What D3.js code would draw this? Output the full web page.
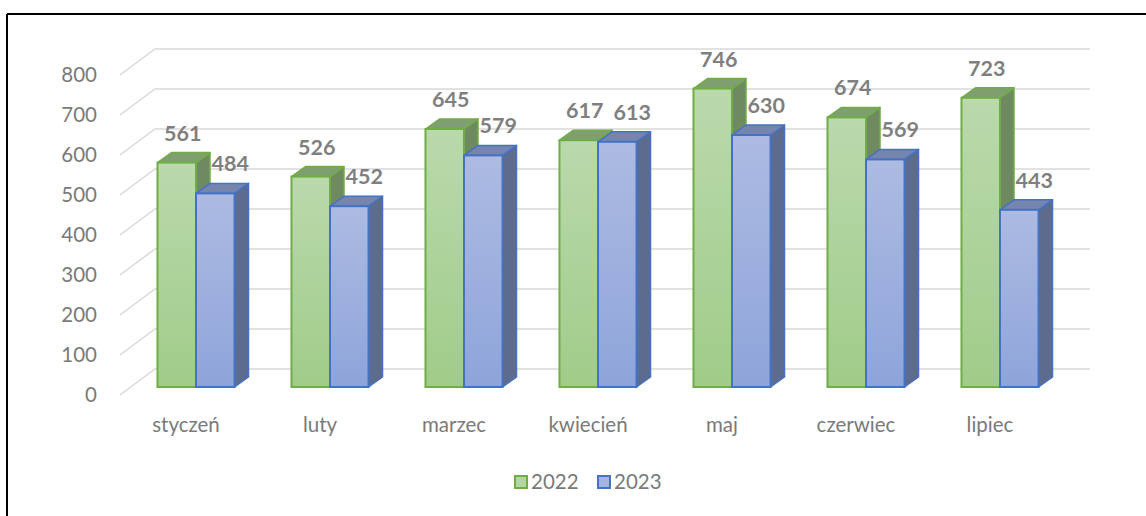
<!DOCTYPE html>
<html>
<head>
<meta charset="utf-8">
<script src="https://cdn.jsdelivr.net/npm/d3@7"></script>
<style>
  body { margin: 0; background: #fff; }
  text { font-family: Lato, "Open Sans", sans-serif; }
</style>
</head>
<body>
<script>
// chart data
var months = ["styczeń", "luty", "marzec", "kwiecień", "maj", "czerwiec", "lipiec"];
var seriesNames = ["2022", "2023"];
var values2022 = [561, 526, 645, 617, 746, 674, 723];
var values2023 = [484, 452, 579, 613, 630, 569, 443];
var yTicks = [0, 100, 200, 300, 400, 500, 600, 700, 800];

window.onload = function(){
    var w = 1146, h = 516;
    var depthX = 14, depthY = -10; //3d offset of bar depth

    var svg = d3.select("body")
        .append("svg")
        .attr("width", w)
        .attr("height", h);

    //gradients for bar front faces
    var defs = svg.append("defs");
    var grads = [
        {id: "gGreen", top: "#bad9ac", bottom: "#a0cc89"},
        {id: "gBlue", top: "#adbbe2", bottom: "#8ea4da"}
    ];
    grads.forEach(function(g){
        var lg = defs.append("linearGradient")
            .attr("id", g.id)
            .attr("x1", 0).attr("y1", 0).attr("x2", 0).attr("y2", 1);
        lg.append("stop").attr("offset", "0%").attr("stop-color", g.top);
        lg.append("stop").attr("offset", "100%").attr("stop-color", g.bottom);
    });

    var styles = [
        {front: "url(#gGreen)", top: "#809f70", side: "#6f8a60", stroke: "#70ad47", labelDx: 6},
        {front: "url(#gBlue)", top: "#7685ad", side: "#5d6b8f", stroke: "#4472c4", labelDx: 15}
    ];

    //chart frame (top and left only)
    svg.append("line").attr("x1", 7).attr("x2", w).attr("y1", 14).attr("y2", 14)
        .attr("stroke", "#000").attr("stroke-width", 2);
    svg.append("line").attr("x1", 7).attr("x2", 7).attr("y1", 14).attr("y2", h)
        .attr("stroke", "#000").attr("stroke-width", 2);

    //y scale for the bar front plane
    var y = d3.scaleLinear().domain([0, 800]).range([387, 67]);

    //gridlines on back wall with a diagonal going to the floor front
    var grid = svg.append("g");
    yTicks.forEach(function(t){
        var yf = y(t) + 8, yb = y(t) - 18;
        grid.append("polyline")
            .attr("points", [[120, yf], [155, yb], [1090, yb]].join(" "))
            .attr("fill", "none")
            .attr("stroke", "#d9d9d9")
            .attr("stroke-width", 1.5);
        grid.append("text")
            .attr("x", 97)
            .attr("y", yf)
            .attr("dy", "0.35em")
            .attr("text-anchor", "end")
            .attr("font-size", 20.5)
            .attr("fill", "#7a7a7a")
            .text(t);
    });

    //category scale
    var x0 = d3.scaleBand()
        .domain(months)
        .range([129, 1067])
        .paddingInner(0.425)
        .paddingOuter(0.2125);
    var x1 = d3.scaleBand()
        .domain(seriesNames)
        .range([0, x0.bandwidth()]);

    var series = [values2022, values2023];
    var bars = svg.append("g");
    months.forEach(function(m, i){
        series.forEach(function(vals, s){
            var v = vals[i];
            var bx = x0(m) + x1(seriesNames[s]);
            var bw = x1.bandwidth();
            var yt = y(v), yb = y(0);
            var st = styles[s];
            var g = bars.append("g");
            //side face
            g.append("polygon")
                .attr("points", [[bx + bw, yt], [bx + bw + depthX, yt + depthY],
                    [bx + bw + depthX, yb + depthY], [bx + bw, yb]].join(" "))
                .attr("fill", st.side)
                .attr("stroke", st.stroke).attr("stroke-width", 1.5)
                .attr("stroke-linejoin", "round");
            //top face
            g.append("polygon")
                .attr("points", [[bx, yt], [bx + depthX, yt + depthY],
                    [bx + bw + depthX, yt + depthY], [bx + bw, yt]].join(" "))
                .attr("fill", st.top)
                .attr("stroke", st.stroke).attr("stroke-width", 1.5)
                .attr("stroke-linejoin", "round");
            //front face
            g.append("rect")
                .attr("x", bx)
                .attr("y", yt)
                .attr("width", bw)
                .attr("height", yb - yt)
                .attr("fill", st.front)
                .attr("stroke", st.stroke).attr("stroke-width", 2);
        });
    });

    //data labels drawn after all bars
    var labels = svg.append("g");
    months.forEach(function(m, i){
        series.forEach(function(vals, s){
            var v = vals[i];
            var cx = x0(m) + x1(seriesNames[s]) + x1.bandwidth() / 2 + styles[s].labelDx;
            labels.append("text")
                .attr("x", cx)
                .attr("y", y(v) - 22)
                .attr("text-anchor", "middle")
                .attr("font-size", 21.5)
                .attr("font-weight", "bold")
                .attr("fill", "#7f7f7f")
                .text(v);
        });
    });

    //category labels
    svg.append("g").selectAll("text")
        .data(months)
        .enter()
        .append("text")
        .attr("x", function(d){ return x0(d) + x0.bandwidth() / 2 - 10; })
        .attr("y", 432)
        .attr("text-anchor", "middle")
        .attr("font-size", 20.5)
        .attr("fill", "#7a7a7a")
        .text(function(d){ return d; });

    //legend
    var legend = svg.append("g");
    var legX = [515, 598];
    seriesNames.forEach(function(name, s){
        legend.append("rect")
            .attr("x", legX[s]).attr("y", 476)
            .attr("width", 12).attr("height", 12)
            .attr("fill", s === 0 ? "#b3d6a3" : "#a6b5e0")
            .attr("stroke", styles[s].stroke)
            .attr("stroke-width", 2);
        legend.append("text")
            .attr("x", legX[s] + 16)
            .attr("y", 489)
            .attr("font-size", 20.5)
            .attr("fill", "#7a7a7a")
            .text(name);
    });
};
</script>
</body>
</html>
